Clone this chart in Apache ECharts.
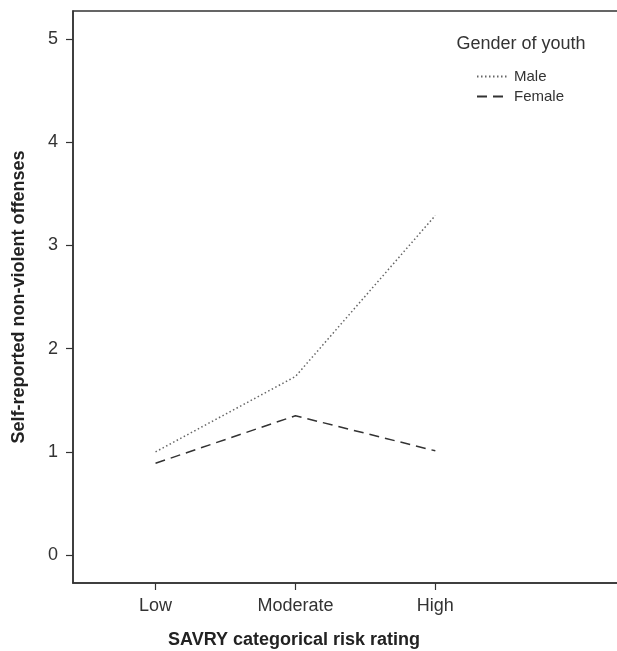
<!DOCTYPE html>
<html><head><meta charset="utf-8">
<script src="https://cdn.jsdelivr.net/npm/echarts@6/dist/echarts.min.js"></script>
<style>html,body{margin:0;padding:0;background:#fff}#c{width:617px;height:651px}</style>
</head><body><div id="c"></div>
<script>
const categories = ['Low', 'Moderate', 'High'];
const maleValues = [1.0, 1.73, 3.29];
const femaleValues = [0.89, 1.35, 1.01];
const yTicks = [0, 1, 2, 3, 4, 5];
const seriesNames = ['Male', 'Female'];

const FONT = '"Liberation Sans", Arial, sans-serif';
const chart = echarts.init(document.getElementById('c'), null, {renderer: 'canvas'});
const pts = v => v.map((y, i) => [i, y]);
chart.setOption({
  animation: false,
  backgroundColor: '#fff',
  grid: {left: 73, top: 11, right: -3, bottom: 68, show: true, borderColor: '#333', borderWidth: 1.5,
         backgroundColor: 'transparent', containLabel: false, outerBoundsMode: 'none'},
  xAxis: {
    type: 'value', min: -0.59, max: 3.32,
    splitLine: {show: false},
    axisLine: {show: true, onZero: false, lineStyle: {color: '#333', width: 1.5}},
    axisTick: {show: true, length: 7, inside: false, lineStyle: {color: '#333', width: 1.2}, customValues: [0, 1, 2]},
    axisLabel: {customValues: [0, 1, 2], formatter: v => categories[Math.round(v)] || '', fontSize: 18, fontFamily: FONT, color: '#333', margin: 14}
  },
  yAxis: {
    type: 'value', min: -0.27, max: 5.27,
    name: 'Self-reported non-violent offenses', nameLocation: 'middle', nameGap: 45,
    nameTextStyle: {fontSize: 18, fontWeight: 'bold', fontFamily: FONT, color: '#222'},
    splitLine: {show: false},
    axisLine: {show: true, onZero: false, lineStyle: {color: '#333', width: 1.5}},
    axisTick: {show: true, length: 7, lineStyle: {color: '#333', width: 1.2}, customValues: yTicks},
    axisLabel: {customValues: yTicks, fontSize: 18, fontFamily: FONT, color: '#333', margin: 15}
  },
  legend: {
    orient: 'vertical', left: 471, top: 64, itemWidth: 32, itemHeight: 10, itemGap: 5,
    data: seriesNames,
    itemStyle: {opacity: 0},
    textStyle: {fontSize: 15, fontFamily: FONT, color: '#333'}
  },
  series: [
    {name: seriesNames[0], type: 'line', data: pts(maleValues), symbol: 'none',
     lineStyle: {type: [1.5, 2.5], width: 1.5, color: '#666'}, itemStyle: {color: '#666'}},
    {name: seriesNames[1], type: 'line', data: pts(femaleValues), symbol: 'none',
     lineStyle: {type: [10, 6], width: 1.5, color: '#333'}, itemStyle: {color: '#333'}}
  ],
  graphic: [
    {type: 'text', x: 521, y: 44, style: {text: 'Gender of youth', align: 'center', verticalAlign: 'middle', font: '18px ' + FONT, fill: '#333'}},
    {type: 'text', x: 294, y: 640, style: {text: 'SAVRY categorical risk rating', align: 'center', verticalAlign: 'middle', font: 'bold 18px ' + FONT, fill: '#222'}}
  ]
});
</script></body></html>
